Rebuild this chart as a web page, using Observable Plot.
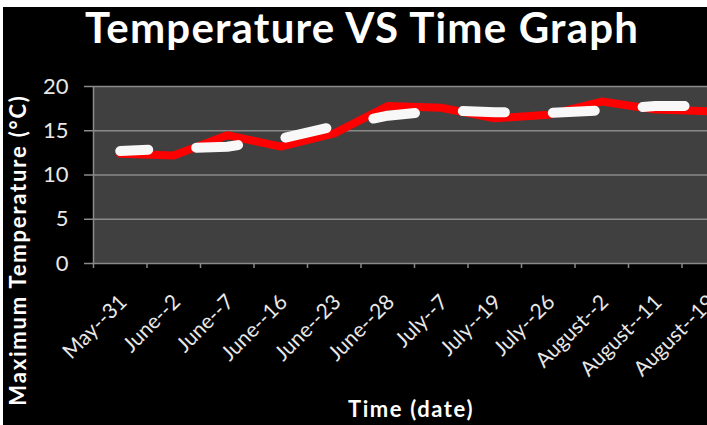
<!DOCTYPE html>
<html>
<head>
<meta charset="utf-8">
<script src="https://cdn.jsdelivr.net/npm/d3@7"></script>
<script src="https://cdn.jsdelivr.net/npm/@observablehq/plot@0.6"></script>
<style>
  html, body { margin: 0; padding: 0; width: 707px; height: 425px; overflow: hidden; background: #fff; }
  #bg { position: absolute; left: 3px; top: 7px; right: 0; bottom: 0; background: #000; }
  #chart { position: absolute; left: 0; top: 0; }
  .t { position: absolute; color: #fff; font-family: Lato, "Open Sans", sans-serif; font-weight: 700; white-space: nowrap; }
  #title { left: 85px; top: 6px; font-size: 42px; line-height: 42px; letter-spacing: 1.2px; }
  #xlabel { left: 411px; top: 398px; font-size: 22px; line-height: 22px; letter-spacing: 1.6px; transform: translateX(-50%); }
  #ylabel { left: 18px; top: 250px; font-size: 22px; line-height: 22px; letter-spacing: 1.8px; transform: translate(-50%, -50%) rotate(-90deg); }
</style>
</head>
<body>
<div id="bg"></div>
<div id="chart"></div>
<div class="t" id="title">Temperature VS Time Graph</div>
<div class="t" id="xlabel">Time (date)</div>
<div class="t" id="ylabel">Maximum Temperature (°C)</div>
<script>
const dates = ["May--31", "June--2", "June--7", "June--16", "June--23", "June--28", "July--7", "July--19", "July--26", "August--2", "August--11", "August--19"];
const maxTemp = [12.4, 12.2, 14.5, 13.2, 14.7, 17.8, 17.6, 16.4, 16.8, 18.3, 17.4, 17.2];
const trendTemp = [12.7, 13.0, 13.2, 14.1, 15.5, 16.7, 17.3, 17.1, 17.0, 17.3, 17.8, 17.8];
const yTicks = [0, 5, 10, 15, 20];

const idx = dates.map((d, i) => i);
const red = idx.map(i => ({i, v: maxTemp[i]}));
const white = idx.map(i => ({i, v: trendTemp[i]}));
const bounds = idx.map(i => i - 0.5).concat([dates.length - 0.5]);

const axisColor = "#8a8a8a";
const chart = Plot.plot({
  width: 740,
  height: 425,
  marginLeft: 93,
  marginRight: 5,
  marginTop: 86,
  marginBottom: 162,
  style: {background: "transparent", maxWidth: "none", overflow: "visible", fontFamily: "Lato, 'Open Sans', sans-serif"},
  x: {domain: [-0.5, dates.length - 0.5], axis: null},
  y: {domain: [0, 20], axis: null},
  marks: [
    Plot.frame({fill: "#404040", stroke: null}),
    Plot.ruleY(yTicks.filter(t => t > 0), {stroke: axisColor, strokeWidth: 1.5}),
    Plot.ruleY([0], {stroke: axisColor, strokeWidth: 1.5}),
    Plot.ruleX([-0.5], {stroke: axisColor, strokeWidth: 1.5}),
    Plot.axisY({ticks: yTicks, tickSize: 9, tickPadding: 16, fontSize: 22, color: "#e8e8e8", stroke: axisColor, strokeWidth: 1.5, label: null}),
    Plot.axisX({ticks: bounds, tickSize: 5, tickFormat: () => "", stroke: axisColor, strokeWidth: 1.5, label: null}),
    Plot.axisX({ticks: idx, tickSize: 0, tickPadding: 35, tickRotate: -45, dx: 3, tickFormat: i => dates[i], fontSize: 21, letterSpacing: 1.5, color: "#e8e8e8", label: null}),
    Plot.line(red, {x: "i", y: "v", stroke: "#ff0000", strokeWidth: 8, strokeLinejoin: "miter"}),
    Plot.line(white, {x: "i", y: "v", stroke: "#f8f8f8", strokeWidth: 10, strokeLinecap: "round", strokeDasharray: "42,48", strokeDashoffset: 14})
  ]
});
document.getElementById("chart").appendChild(chart);
</script>
</body>
</html>
